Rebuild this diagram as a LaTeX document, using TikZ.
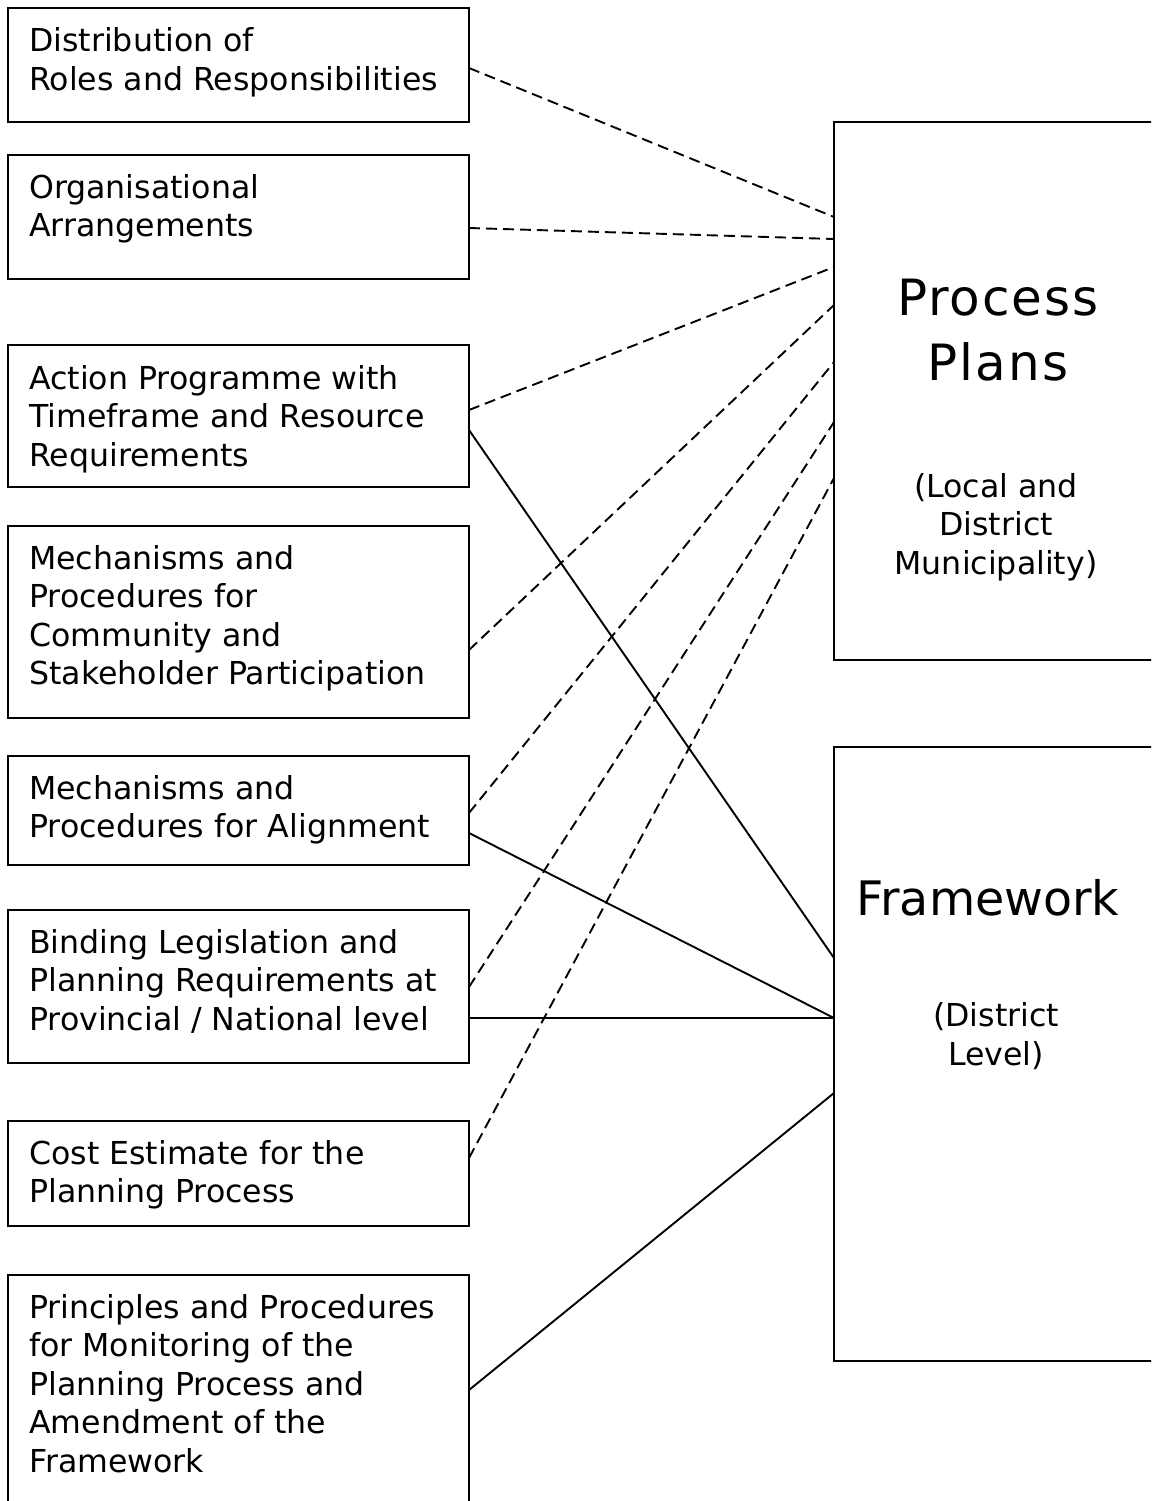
\documentclass[tikz,border=0pt]{standalone}
\usepackage{fontspec}
\setmainfont{DejaVu Sans}
\begin{document}
\begin{tikzpicture}[x=1pt,y=-1pt,
  lbox/.style={draw, line width=2.2pt, rectangle, inner sep=0pt, outer sep=0pt, anchor=north west, minimum width=461pt},
  rbox/.style={draw, line width=2.2pt, rectangle, inner sep=0pt, outer sep=0pt, anchor=north west, minimum width=400pt},
  ltxt/.style={inner sep=0pt, anchor=base west, align=left, font=\fontsize{31.6}{38.5}\selectfont},
  ctxt/.style={inner sep=0pt, anchor=base, align=center, font=\fontsize{31.6}{38.5}\selectfont},
  btxt/.style={inner sep=0pt, anchor=base, align=center, font=\fontsize{50}{65}\selectfont\addfontfeatures{LetterSpace=4}},
  dline/.style={line width=1.9pt, dash pattern=on 11pt off 6pt},
  sline/.style={line width=1.9pt}]
\path[use as bounding box] (0,0) rectangle (1151,1501);
\clip (0,0) rectangle (1151,1501);
% left boxes
\node[lbox, minimum height=114pt] (b1) at (8,8) {};
\node[lbox, minimum height=124pt] (b2) at (8,155) {};
\node[lbox, minimum height=142pt] (b3) at (8,345) {};
\node[lbox, minimum height=192pt] (b4) at (8,526) {};
\node[lbox, minimum height=109pt] (b5) at (8,756) {};
\node[lbox, minimum height=153pt] (b6) at (8,910) {};
\node[lbox, minimum height=105pt] (b7) at (8,1121) {};
\node[lbox, minimum height=260pt] (b8) at (8,1275) {};
% left texts (anchored at the baseline of the last line)
\node[ltxt] (t1) at (29,90.5) {Distribution of\\Roles and Responsibilities};
\node[ltxt] (t2) at (29,236.5) {Organisational\\Arrangements};
\node[ltxt] (t3) at (29,466) {Action Programme with\\Timeframe and Resource\\Requirements};
\node[ltxt] (t4) at (29,684.5) {Mechanisms and\\Procedures for\\Community and\\Stakeholder Participation};
\node[ltxt] (t5) at (29,837.5) {Mechanisms and\\Procedures for Alignment};
\node[ltxt] (t6) at (29,1030) {Binding Legislation and\\Planning Requirements at\\Provincial / National level};
\node[ltxt] (t7) at (29,1202.5) {Cost Estimate for the\\Planning Process};
\node[ltxt] (t8) at (29,1472) {Principles and Procedures\\for Monitoring of the\\Planning Process and\\Amendment of the\\Framework};
% right boxes
\node[rbox, minimum height=538pt] (pp) at (834,122) {};
\node[rbox, minimum height=614pt] (fw) at (834,747) {};
\node[btxt] (ppt) at (998,380) {Process\\Plans};
\node[ctxt] (pps) at (996,574) {(Local and\\District\\Municipality)};
\node[btxt, font=\fontsize{47.5}{60}\selectfont] (fwt) at (988,915) {Framework};
\node[ctxt] (fws) at (996,1065) {(District\\Level)};
% dashed connectors
\draw[dline] (b1.east |- 0,68) -- (pp.west |- 0,217);
\draw[dline] (b2.east |- 0,228) -- (pp.west |- 0,239);
\draw[dline] (b3.east |- 0,410) -- (pp.west |- 0,267);
\draw[dline] (b4.east |- 0,650) -- (pp.west |- 0,305);
\draw[dline] (b5.east |- 0,813) -- (pp.west |- 0,362);
\draw[dline] (b6.east |- 0,987) -- (pp.west |- 0,422);
\draw[dline] (b7.east |- 0,1158) -- (pp.west |- 0,478);
% solid connectors
\draw[sline] (b3.east |- 0,430) -- (fw.west |- 0,958);
\draw[sline] (b5.east |- 0,833) -- (fw.west |- 0,1018);
\draw[sline] (b6.east |- 0,1018) -- (fw.west |- 0,1018);
\draw[sline] (b8.east |- 0,1390) -- (fw.west |- 0,1093);
\end{tikzpicture}
\end{document}
